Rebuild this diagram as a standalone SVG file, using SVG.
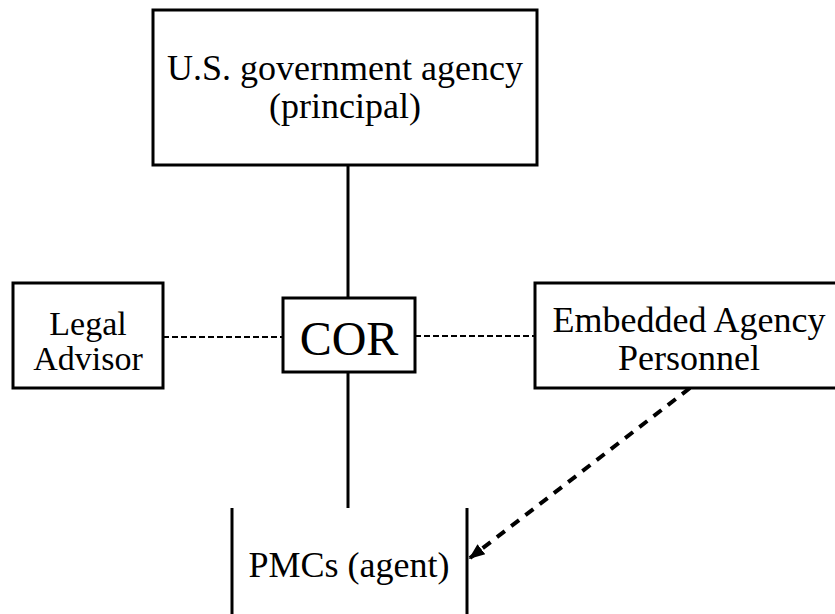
<svg xmlns="http://www.w3.org/2000/svg" width="835" height="614" viewBox="0 0 835 614">
<defs>
<style>
.box{fill:#fff;stroke:#000;stroke-width:3}
.t{font-family:"Liberation Serif","Times New Roman",serif;fill:#000;text-anchor:middle}
.solid{stroke:#000;stroke-width:3;fill:none}
.dash{stroke:#000;stroke-width:2;stroke-dasharray:6 3;fill:none}
.arrow{stroke:#000;stroke-width:4;stroke-dasharray:10 8;fill:none}
</style>
<marker id="ah" markerWidth="8" markerHeight="8" refX="7" refY="4" orient="auto" markerUnits="userSpaceOnUse" viewBox="0 0 8 8">
<path d="M0,0 L8,4 L0,8 z" fill="#000"/>
</marker>
<marker id="ah2" viewBox="0 0 10 10" refX="9" refY="5" markerWidth="16" markerHeight="16" orient="auto" markerUnits="userSpaceOnUse">
<path d="M0,1 L10,5 L0,9 z" fill="#000"/>
</marker>
</defs>
<rect width="835" height="614" fill="#fff"/>
<g id="connectors">
<line class="solid" x1="348" y1="165" x2="348" y2="298"/>
<line class="solid" x1="348" y1="372" x2="348" y2="508"/>
<line class="dash" x1="163" y1="337" x2="283" y2="337"/>
<line class="dash" x1="415" y1="336" x2="535" y2="336"/>
<line class="arrow" x1="690" y1="388" x2="470" y2="558" marker-end="url(#ah2)"/>
</g>
<g id="agency">
<rect class="box" x="153" y="10" width="384" height="155"/>
<text class="t" x="345" y="80" font-size="36">U.S. government agency</text>
<text class="t" x="345" y="118" font-size="36">(principal)</text>
</g>
<g id="legal">
<rect class="box" x="13" y="283" width="150" height="105"/>
<text class="t" x="88" y="335" font-size="34">Legal</text>
<text class="t" x="88" y="370" font-size="34">Advisor</text>
</g>
<g id="cor">
<rect class="box" x="283" y="298" width="132" height="74"/>
<text class="t" x="349" y="355" font-size="48">COR</text>
</g>
<g id="embedded">
<rect class="box" x="535" y="283" width="305" height="105"/>
<text class="t" x="689" y="332" font-size="36">Embedded Agency</text>
<text class="t" x="689" y="370" font-size="36">Personnel</text>
</g>
<g id="pmcs">
<line class="solid" x1="232" y1="508" x2="232" y2="614"/>
<line class="solid" x1="467" y1="508" x2="467" y2="614"/>
<text class="t" x="349" y="577" font-size="36">PMCs (agent)</text>
</g>
</svg>
